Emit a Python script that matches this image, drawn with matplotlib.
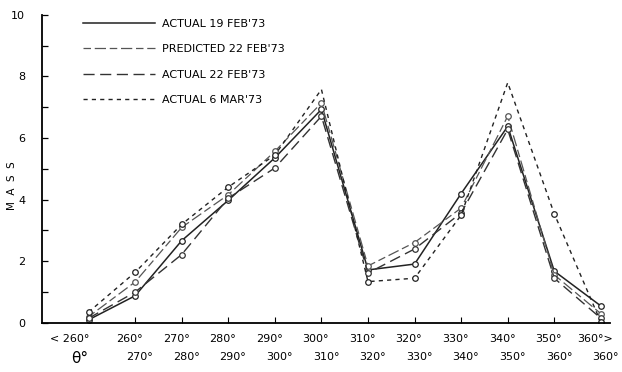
import matplotlib
matplotlib.use("Agg")
import matplotlib.pyplot as plt
import matplotlib.transforms as mtransforms

# ---- data ----
row1_labels = ["< 260°", "260°", "270°", "280°", "290°", "300°", "310°",
               "320°", "330°", "340°", "350°", "360°>"]
row2_labels = ["", "270°", "280°", "290°", "300°", "310°", "320°",
               "330°", "340°", "350°", "360°", "360°"]
actual_19feb = [0.10, 0.88, 2.67, 3.98, 5.36, 6.93, 1.72, 1.91, 4.20, 6.38, 1.68, 0.55]
predicted_22feb = [0.20, 1.33, 3.10, 4.16, 5.57, 7.14, 1.85, 2.61, 3.73, 6.71, 1.56, 0.30]
actual_22feb = [0.15, 1.00, 2.22, 4.05, 5.03, 6.71, 1.62, 2.40, 3.57, 6.28, 1.45, 0.15]
actual_6mar = [0.35, 1.64, 3.20, 4.41, 5.45, 7.58, 1.34, 1.45, 3.50, 7.80, 3.54, 0.02]
series_names = ["ACTUAL 19 FEB'73", "PREDICTED 22 FEB'73", "ACTUAL 22 FEB'73", "ACTUAL 6 MAR'73"]

fig = plt.figure(figsize=(6.22, 3.72), dpi=100)
ax = fig.add_axes([0.0675, 0.132, 0.9135, 0.828])

x = list(range(len(row1_labels)))
mk = dict(marker="o", markersize=4, markerfacecolor="white", markeredgewidth=0.9)

ax.plot(x, actual_19feb, color="#222222", lw=1.1, ls="-", label=series_names[0], **mk)
ax.plot(x, predicted_22feb, color="#555555", lw=0.9, ls=(0, (6, 3, 9, 3)), label=series_names[1], **mk)
ax.plot(x, actual_22feb, color="#333333", lw=1.0, ls=(0, (8, 4)), label=series_names[2], **mk)
ax.plot(x, actual_6mar, color="#222222", lw=1.0, ls=(0, (3, 3)), label=series_names[3],
        markevery=[0, 1, 2, 3, 4, 6, 7, 8, 10, 11], **mk)

ax.set_xlim(-1.0, 11.2)
ax.set_ylim(0, 10)
ax.spines["top"].set_visible(False)
ax.spines["right"].set_visible(False)
ax.spines["left"].set_linewidth(1.3)
ax.spines["bottom"].set_linewidth(1.3)

ax.set_yticks([0, 2, 4, 6, 8, 10])
ax.set_yticklabels(["0", "2", "4", "6", "8", "10"], fontsize=8)
ax.set_yticks([1, 3, 5, 7, 9], minor=True)
ax.tick_params(axis="y", which="both", direction="in", length=4, width=0.9, pad=12)

ax.set_xticks(x)
ax.set_xticklabels([])
ax.tick_params(axis="x", direction="in", length=4, width=0.8)

trans = mtransforms.blended_transform_factory(ax.transData, ax.transAxes)
for i, (a, b) in enumerate(zip(row1_labels, row2_labels)):
    if i == 0:
        ax.text(i - 0.4, -0.035, a, transform=trans, ha="center", va="top", fontsize=8)
    else:
        ax.text(i - 0.12, -0.035, a, transform=trans, ha="center", va="top", fontsize=8)
        ax.text(i + 0.1, -0.095, b, transform=trans, ha="center", va="top", fontsize=8)
ax.text(-0.2, -0.09, "θ°", transform=trans, ha="center", va="top", fontsize=11)

fig.text(0.02, 0.50, "M  A  S  S", rotation=90, ha="center", va="center", fontsize=7.5)

leg = ax.legend(loc="upper left", bbox_to_anchor=(0.055, 1.02), frameon=False,
                handlelength=6.5, fontsize=8, labelspacing=1.4, handletextpad=0.6)
for h in leg.get_lines():
    h.set_marker("")

fig.savefig("out.png", dpi=100)
